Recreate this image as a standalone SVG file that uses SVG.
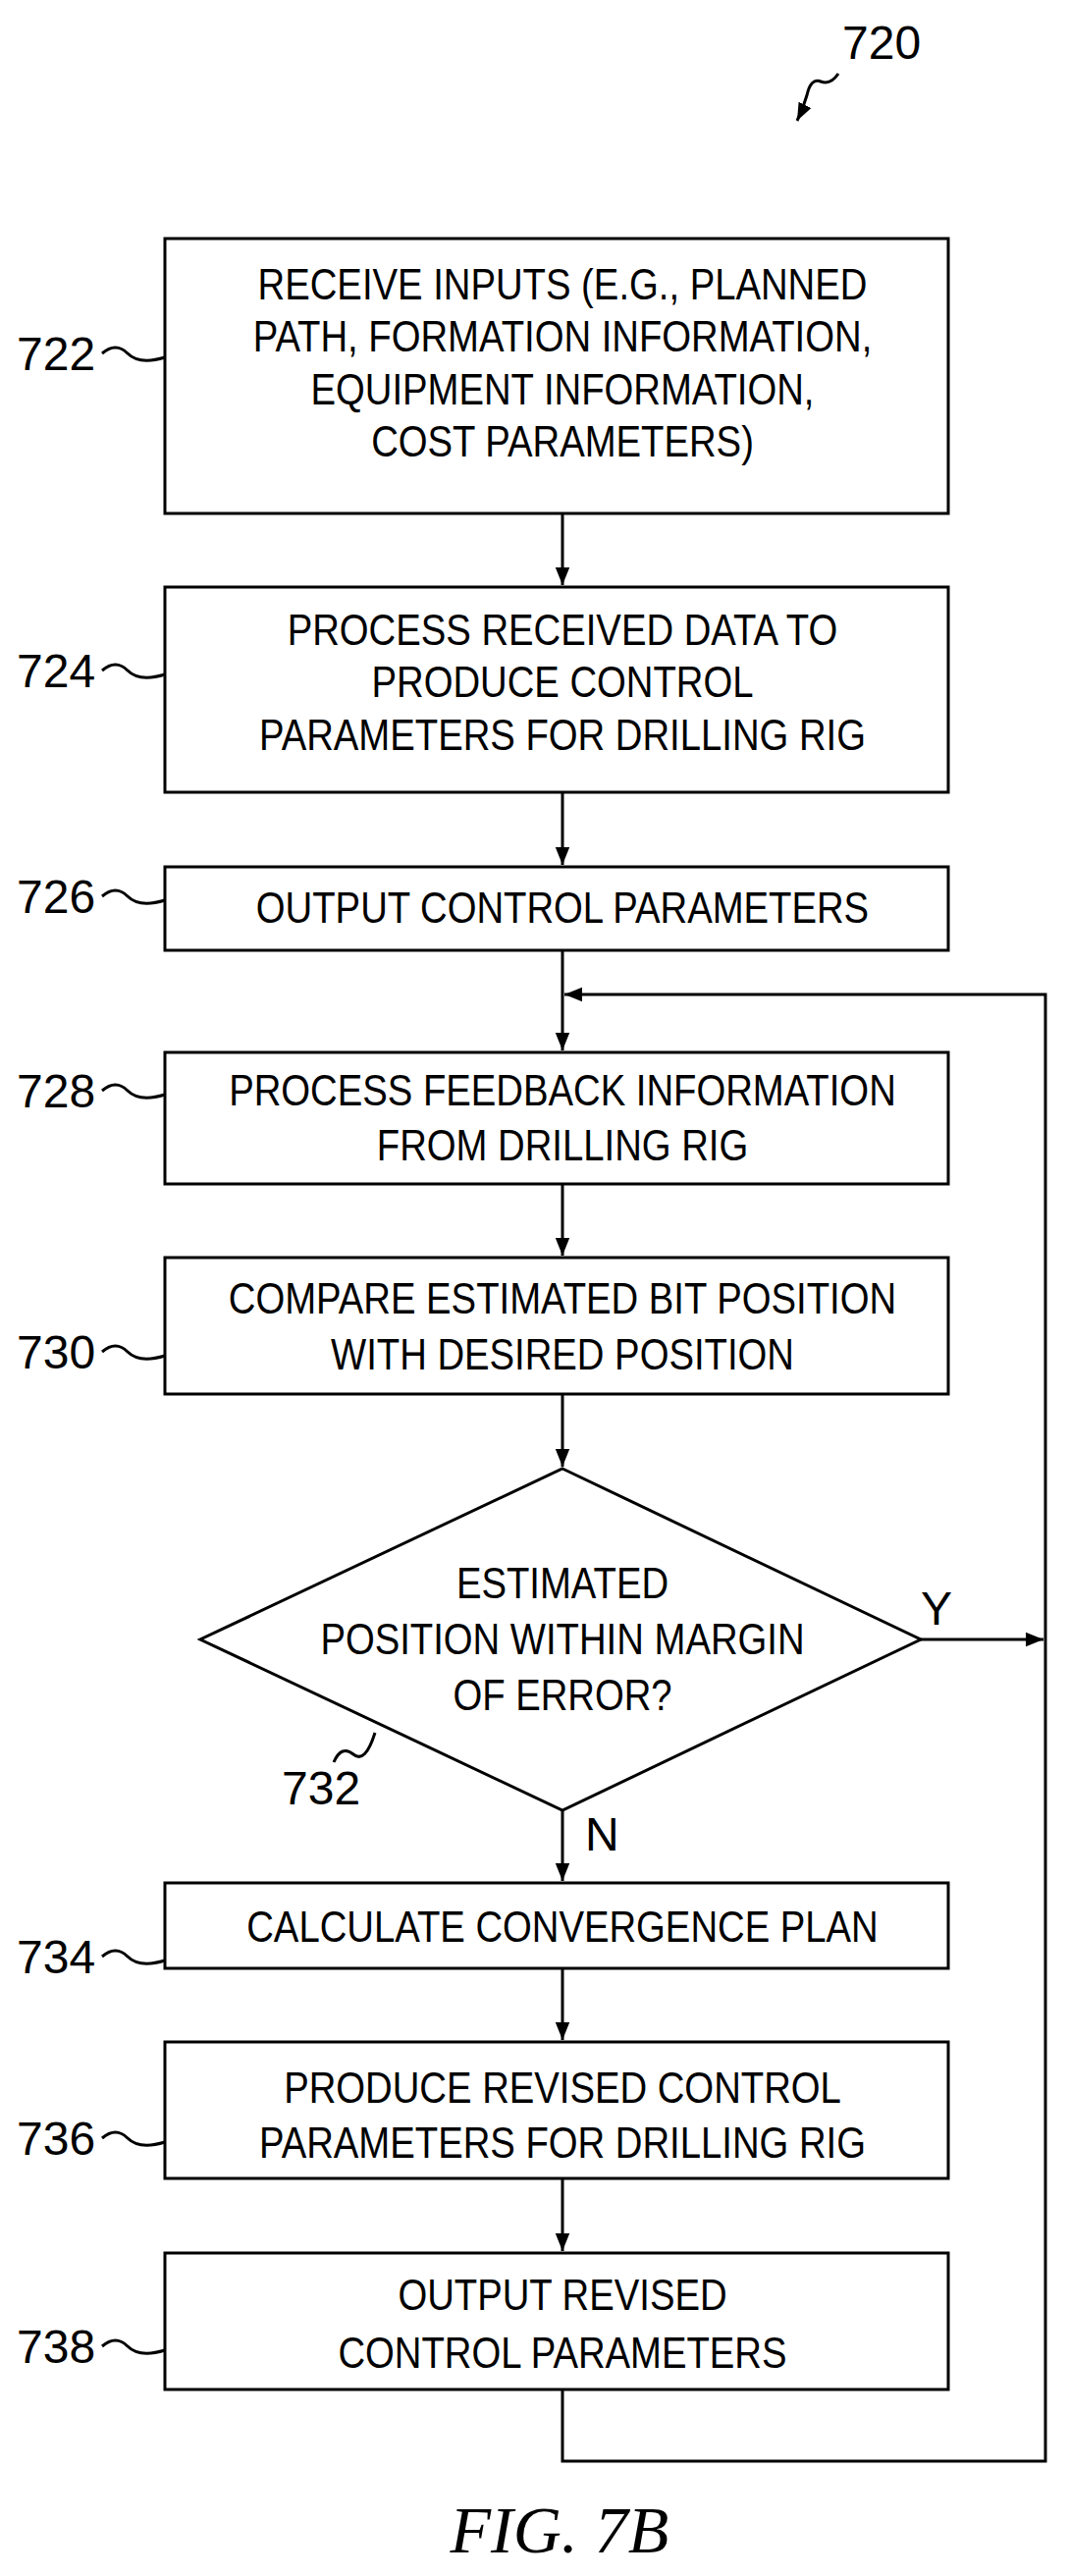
<svg xmlns="http://www.w3.org/2000/svg" width="1089" height="2624" viewBox="0 0 1089 2624">
<defs>
<style>
.b{fill:#fff;stroke:#000;stroke-width:3}
.t{font-family:"Liberation Sans",Arial,sans-serif;font-size:44px;text-anchor:middle;fill:#000}
.l{font-family:"Liberation Sans",Arial,sans-serif;font-size:48px;fill:#000}
.c{fill:none;stroke:#000;stroke-width:3}
</style>
<marker id="h" viewBox="0 0 10 10" refX="10" refY="5" markerWidth="18" markerHeight="18" orient="auto" markerUnits="userSpaceOnUse"><path d="M0,1L10,5L0,9z"/></marker>
</defs>
<rect width="1089" height="2624" fill="#fff"/>
<g id="connectors">
<path class="c" d="M573,523V596" marker-end="url(#h)"/>
<path class="c" d="M573,807V881" marker-end="url(#h)"/>
<path class="c" d="M573,968V1070" marker-end="url(#h)"/>
<path class="c" d="M573,1206V1279" marker-end="url(#h)"/>
<path class="c" d="M573,1420V1494" marker-end="url(#h)"/>
<path class="c" d="M573,1844V1916" marker-end="url(#h)"/>
<path class="c" d="M573,2005V2078" marker-end="url(#h)"/>
<path class="c" d="M573,2219V2293" marker-end="url(#h)"/>
<path class="c" d="M573,2434V2507H1065V1013H575" marker-end="url(#h)"/>
<path class="c" d="M938,1670H1063" marker-end="url(#h)"/>
<text class="l" x="938" y="1655" font-size="40">Y</text>
<text class="l" x="596" y="1885" font-size="40">N</text>
</g>
<g id="n720"><text class="l" x="858" y="60">720</text><path class="c" d="M854,75q-8,12-18,8t-14,14q-4,14-10,26" marker-end="url(#h)"/></g>
<g transform="translate(573,0) scale(0.87,1) translate(-573,0)">
<g id="n722t"><text class="t"><tspan x="573" y="305">RECEIVE INPUTS (E.G., PLANNED</tspan><tspan x="573" y="358">PATH, FORMATION INFORMATION,</tspan><tspan x="573" y="412">EQUIPMENT INFORMATION,</tspan><tspan x="573" y="465">COST PARAMETERS)</tspan></text></g>
</g>
<g id="n722"><rect class="b" x="168" y="243" width="798" height="280" fill-opacity="0"/>
<text class="l" x="17" y="377">722</text><path class="c" d="M104,360q14,-12,26,0t38,4"/></g>
<g id="n724"><rect class="b" x="168" y="598" width="798" height="209"/>
<text class="t" transform="translate(573,0) scale(0.87,1) translate(-573,0)"><tspan x="573" y="657">PROCESS RECEIVED DATA TO</tspan><tspan x="573" y="710">PRODUCE CONTROL</tspan><tspan x="573" y="764">PARAMETERS FOR DRILLING RIG</tspan></text>
<text class="l" x="17" y="700">724</text><path class="c" d="M104,683q14,-12,26,0t38,4"/></g>
<g id="n726"><rect class="b" x="168" y="883" width="798" height="85"/>
<text class="t" transform="translate(573,0) scale(0.87,1) translate(-573,0)" x="573" y="940">OUTPUT CONTROL PARAMETERS</text>
<text class="l" x="17" y="930">726</text><path class="c" d="M104,913q14,-12,26,0t38,4"/></g>
<g id="n728"><rect class="b" x="168" y="1072" width="798" height="134"/>
<text class="t" transform="translate(573,0) scale(0.87,1) translate(-573,0)"><tspan x="573" y="1126">PROCESS FEEDBACK INFORMATION</tspan><tspan x="573" y="1182">FROM DRILLING RIG</tspan></text>
<text class="l" x="17" y="1128">728</text><path class="c" d="M104,1111q14,-12,26,0t38,4"/></g>
<g id="n730"><rect class="b" x="168" y="1281" width="798" height="139"/>
<text class="t" transform="translate(573,0) scale(0.87,1) translate(-573,0)"><tspan x="573" y="1338">COMPARE ESTIMATED BIT POSITION</tspan><tspan x="573" y="1395">WITH DESIRED POSITION</tspan></text>
<text class="l" x="17" y="1394">730</text><path class="c" d="M104,1377q14,-12,26,0t38,4"/></g>
<g id="n732"><path class="b" d="M573,1496L938,1670L573,1844L204,1670Z"/>
<text class="t" transform="translate(573,0) scale(0.87,1) translate(-573,0)"><tspan x="573" y="1628">ESTIMATED</tspan><tspan x="573" y="1685">POSITION WITHIN MARGIN</tspan><tspan x="573" y="1742">OF ERROR?</tspan></text>
<text class="l" x="287" y="1838">732</text><path class="c" d="M340,1795q8,-18,20,-8t22,-22"/></g>
<g id="n734"><rect class="b" x="168" y="1918" width="798" height="87"/>
<text class="t" transform="translate(573,0) scale(0.87,1) translate(-573,0)" x="573" y="1978">CALCULATE CONVERGENCE PLAN</text>
<text class="l" x="17" y="2010">734</text><path class="c" d="M104,1993q14,-12,26,0t38,4"/></g>
<g id="n736"><rect class="b" x="168" y="2080" width="798" height="139"/>
<text class="t" transform="translate(573,0) scale(0.87,1) translate(-573,0)"><tspan x="573" y="2142">PRODUCE REVISED CONTROL</tspan><tspan x="573" y="2198">PARAMETERS FOR DRILLING RIG</tspan></text>
<text class="l" x="17" y="2195">736</text><path class="c" d="M104,2178q14,-12,26,0t38,4"/></g>
<g id="n738"><rect class="b" x="168" y="2295" width="798" height="139"/>
<text class="t" transform="translate(573,0) scale(0.87,1) translate(-573,0)"><tspan x="573" y="2353">OUTPUT REVISED</tspan><tspan x="573" y="2412">CONTROL PARAMETERS</tspan></text>
<text class="l" x="17" y="2407">738</text><path class="c" d="M104,2390q14,-12,26,0t38,4"/></g>
<text x="570" y="2600" font-family="Liberation Serif,serif" font-style="italic" font-size="68" text-anchor="middle">FIG. 7B</text>
</svg>
